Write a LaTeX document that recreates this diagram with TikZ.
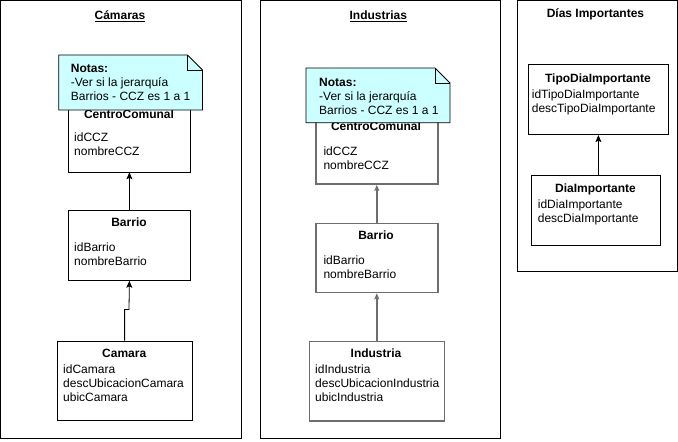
\documentclass[tikz,border=0pt]{standalone}
\usepackage{fontspec}
\setmainfont{Liberation Sans}
\usetikzlibrary{arrows.meta}
\definecolor{notecyan}{RGB}{204,255,255}
\definecolor{linegray}{RGB}{110,110,110}
\begin{document}
\begin{tikzpicture}[x=1pt,y=-1pt,
 frame/.style={draw=black, line width=0.8pt},
 cls/.style={draw=black, line width=0.8pt, fill=white, anchor=north west, inner sep=0},
 gcls/.style={cls, draw=linegray, line width=1.6pt},
 txt/.style={anchor=base west, inner sep=0, font=\fontsize{12}{14}\selectfont},
 ttl/.style={anchor=base, inner sep=0, font=\fontsize{12}{14}\selectfont\bfseries},
 arr/.style={-{Stealth[length=7pt,width=6pt,inset=1.5pt]}, line width=0.8pt},
 garr/.style={-{Stealth[length=6pt,width=5pt,inset=1.2pt]}, draw=linegray, line width=1.6pt},
 notebox/.style={fill=notecyan, draw=black, line width=0.8pt}
]
\useasboundingbox (0,0) rectangle (678,442);
\fill[white] (0,0) rectangle (678,442);

% ---------- frames ----------
\draw[frame] (0.8,0.8) rectangle (241,438.5);
\draw[frame] (260,0.8) rectangle (500,438.5);
\draw[frame] (517.5,0.8) rectangle (677.2,271.5);

\node[ttl] (t1) at (120,19.5) {\underline{Cámaras}};
\node[ttl] (t2) at (378.3,19.5) {\underline{Industrias}};
\node[ttl] (t3) at (595.5,17.5) {Días Importantes};

% ---------- Cámaras ----------
\node[cls, minimum width=122pt, minimum height=69pt] (ccz1) at (68,102.5) {};
\node[ttl] (ccz1t) at (129,118) {CentroComunal};
\node[txt] (ccz1a) at (74,141.5) {idCCZ};
\node[txt] (ccz1b) at (74,155.5) {nombreCCZ};

\node[cls, minimum width=122pt, minimum height=70pt] (bar1) at (68,210) {};
\node[ttl] (bar1t) at (129,226.5) {Barrio};
\node[txt] (bar1a) at (74,251) {idBarrio};
\node[txt] (bar1b) at (74,265) {nombreBarrio};

\node[cls, minimum width=135pt, minimum height=79.3pt] (cam) at (56.7,340.7) {};
\node[ttl] (camt) at (124.2,357) {Camara};
\node[txt] (cama) at (63,373.3) {idCamara};
\node[txt] (camb) at (63,387.3) {descUbicacionCamara};
\node[txt] (camc) at (63,401.3) {ubicCamara};

\draw[arr] (bar1.north) -- (ccz1.south);
\coordinate (bend1) at (129,309.5);
\draw[arr] (cam.north) |- (bend1) -- (bar1.south);

\draw[notebox] (58.7,55) -- (187.5,55) -- (202.5,70) -- (202.5,110) -- (58.7,110) -- cycle;
\draw[line width=0.8pt] (187.5,55) -- (187.5,70) -- (202.5,70);
\node[txt, font=\fontsize{12}{14}\selectfont\bfseries] (n1a) at (70.7,72.5) {Notas:};
\node[txt] (n1b) at (70.7,86.5) {-Ver si la jerarquía};
\node[txt] (n1c) at (70.7,100.5) {Barrios - CCZ es 1 a 1};

% ---------- Industrias ----------
\node[gcls, minimum width=122pt, minimum height=68.8pt] (ccz2) at (315,114.5) {};
\node[ttl] (ccz2t) at (376,130) {CentroComunal};
\node[txt] (ccz2a) at (323.3,155) {idCCZ};
\node[txt] (ccz2b) at (323.3,169) {nombreCCZ};

\node[gcls, minimum width=122pt, minimum height=69pt] (bar2) at (315,222.7) {};
\node[ttl] (bar2t) at (376,239.5) {Barrio};
\node[txt] (bar2a) at (323.3,264.3) {idBarrio};
\node[txt] (bar2b) at (323.3,278.3) {nombreBarrio};

\node[gcls, minimum width=135pt, minimum height=79.3pt] (ind) at (308.5,340.7) {};
\node[ttl] (indt) at (376,357.7) {Industria};
\node[txt] (inda) at (315,373.3) {idIndustria};
\node[txt] (indb) at (315,387.3) {descUbicacionIndustria};
\node[txt] (indc) at (315,401.3) {ubicIndustria};

\draw[garr] (bar2.north) -- (ccz2.south);
\draw[garr] (ind.north) -- (bar2.south);

\draw[notebox] (306,68) -- (435,68) -- (450,83) -- (450,122.7) -- (306,122.7) -- cycle;
\draw[line width=0.8pt] (435,68) -- (435,83) -- (450,83);
\node[txt, font=\fontsize{12}{14}\selectfont\bfseries] (n2a) at (319,86) {Notas:};
\node[txt] (n2b) at (319,100) {-Ver si la jerarquía};
\node[txt] (n2c) at (319,114) {Barrios - CCZ es 1 a 1};

% ---------- Días Importantes ----------
\node[cls, minimum width=140pt, minimum height=70pt] (tipo) at (528,64.3) {};
\node[ttl] (tipot) at (598,82) {TipoDiaImportante};
\node[txt] (tipoa) at (531.7,98.6) {idTipoDiaImportante};
\node[txt] (tipob) at (531.7,112.6) {descTipoDiaImportante};

\node[cls, minimum width=129pt, minimum height=70pt] (dia) at (531,175) {};
\node[ttl] (diat) at (595.5,192) {DiaImportante};
\node[txt] (diaa) at (537.7,208.6) {idDiaImportante};
\node[txt] (diab) at (537.7,222.6) {descDiaImportante};

\draw[arr] (dia.north -| tipo.south) -- (tipo.south);
\end{tikzpicture}
\end{document}
